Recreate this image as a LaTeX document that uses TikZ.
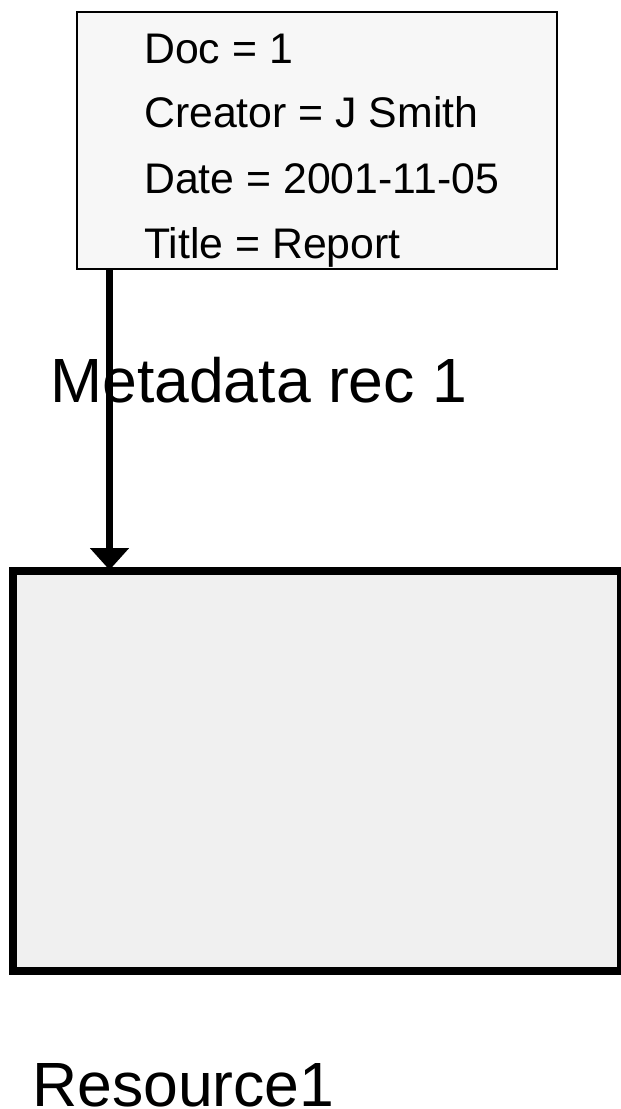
\documentclass[tikz,border=0pt]{standalone}
\usepackage{fontspec}
\setmainfont{Liberation Sans}
\usetikzlibrary{arrows.meta}
\begin{document}
\begin{tikzpicture}[x=1pt,y=-1pt,
  small/.style={anchor=base west,inner sep=0pt,font=\fontsize{42.8}{42.8}\selectfont},
  big/.style={anchor=base west,inner sep=0pt,font=\fontsize{62.5}{62.5}\selectfont},
  metabox/.style={draw=black,line width=2pt,fill=black!3,outer sep=0pt,inner sep=0pt,minimum width=480pt,minimum height=257pt},
  resbox/.style={draw=black,line width=8pt,fill=black!6,outer sep=0pt,inner sep=0pt,minimum width=608pt,minimum height=400pt},
  link/.style={line width=7pt,-{Triangle[width=38pt,length=22pt]}}]
\useasboundingbox (0,0) rectangle (621,1109);
\node[metabox] (meta) at (317,140.5) {};
\node[resbox] (res) at (317,771) {};
\node[small] (l1) at (144,63) {Doc = 1};
\node[small] (l2) at (144,127) {Creator = J Smith};
\node[small] (l3) at (144,193) {Date = 2001-11-05};
\node[small] (l4) at (144,258) {Title = Report};
\coordinate (s) at (109.5,269);
\coordinate (e) at (109.5,570);
\draw[link] (s) -- (e);
\node[big] (mlabel) at (50,402) {Metadata rec 1};
\node[big] (rlabel) at (32,1106) {Resource1};
\end{tikzpicture}
\end{document}
